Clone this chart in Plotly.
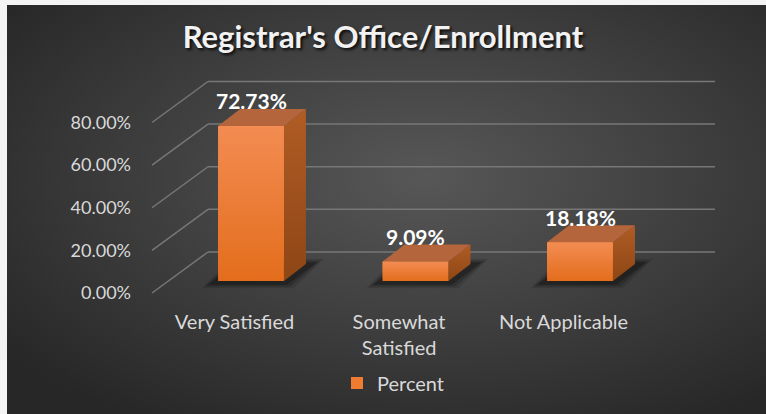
import base64
import plotly.graph_objects as go

# ---------------- data ----------------
categories = ["Very Satisfied", "Somewhat<br>Satisfied", "Not Applicable"]
percent_values = [72.73, 9.09, 18.18]
value_labels = ["72.73%", "9.09%", "18.18%"]
y_tick_values = [0, 20, 40, 60, 80]
y_tick_labels = ["0.00%", "20.00%", "40.00%", "60.00%", "80.00%"]
series_name = "Percent"
title_text = "Registrar's Office/Enrollment"

# ---------------- styling / geometry ----------------
W, H = 766, 414
ML, MR, MT, MB = 140, 46, 60, 114
X_RANGE = [-0.6748, 2.851]
Y_RANGE = [-8.92, 103.7]
BAR_W = 0.40
DX, DY = 0.134, 7.98          # bar depth (data units)
FRONT_SHIFT_Y = 5.63          # label plane offset below bar plane
FRONT_X, BACK_X, END_X = -0.6018, -0.2614, 2.8207
BACK_SHIFT_Y = 13.61
LABEL_SHIFT_X = 0.10
FONT = "Lato, Carlito, Calibri, sans-serif"
TXT = "#d9d9d9"

xs = list(range(len(categories)))

fig = go.Figure()

# shadows under bars (footprint, blurred by layering)
for i, v in zip(xs, percent_values):
    for grow, alpha in [(0.06, 0.12), (0.04, 0.18), (0.02, 0.25)]:
        gx = grow
        gy = grow * 40
        px_ = [i - BAR_W / 2 - gx - 0.04, i + BAR_W / 2 + gx, i + BAR_W / 2 + DX + gx + 0.05,
               i - BAR_W / 2 + DX - gx]
        py_ = [-gy - 1.0, -gy - 1.0, DY + gy, DY + gy]
        fig.add_trace(go.Scatter(x=px_ + [px_[0]], y=py_ + [py_[0]], fill="toself", mode="none",
                                 fillcolor=f"rgba(0,0,0,{alpha})", showlegend=False, hoverinfo="skip"))

# front faces
fig.add_trace(go.Bar(x=xs, y=percent_values, width=BAR_W, name=series_name,
                     marker=dict(color="#EF7C30", line=dict(width=0)), hoverinfo="skip"))

# side and top faces
for i, v in zip(xs, percent_values):
    sx = [i + BAR_W / 2, i + BAR_W / 2 + DX, i + BAR_W / 2 + DX, i + BAR_W / 2, i + BAR_W / 2]
    sy = [0, DY, v + DY, v, 0]
    fig.add_trace(go.Scatter(x=sx, y=sy, fill="toself", mode="none", showlegend=False,
                             hoverinfo="skip",
                             fillgradient=dict(type="vertical",
                                               colorscale=[[0, "#8E4615"], [1, "#B05C25"]])))
    tx = [i - BAR_W / 2, i + BAR_W / 2, i + BAR_W / 2 + DX, i - BAR_W / 2 + DX, i - BAR_W / 2]
    ty = [v, v, v + DY, v + DY, v]
    fig.add_trace(go.Scatter(x=tx, y=ty, fill="toself", mode="none", showlegend=False,
                             hoverinfo="skip", fillcolor="#B5653B"))

# gradient overlay on front faces (lighter at top)
for i, v in zip(xs, percent_values):
    fx = [i - BAR_W / 2, i + BAR_W / 2, i + BAR_W / 2, i - BAR_W / 2, i - BAR_W / 2]
    fy = [0, 0, v, v, 0]
    fig.add_trace(go.Scatter(x=fx, y=fy, fill="toself", mode="none", showlegend=False,
                             hoverinfo="skip",
                             fillgradient=dict(type="vertical",
                                               colorscale=[[0, "#E36D1C"], [1, "#F38C52"]])))

# dummy trace for label axis
fig.add_trace(go.Scatter(x=[None], y=[None], yaxis="y2", showlegend=False, hoverinfo="skip"))

# value labels
annotations = []
for i, v, lab in zip(xs, percent_values, value_labels):
    annotations.append(dict(x=i, y=v + DY, xref="x", yref="y", text=lab, showarrow=False,
                            xanchor="center", yanchor="middle", yshift=8,
                            font=dict(family=FONT, size=21, color="#ffffff", weight="bold")))

# gridlines (floor diagonal + back wall)
shapes = []
for t in y_tick_values:
    shapes.append(dict(type="line", xref="x", yref="y", x0=FRONT_X, y0=t - FRONT_SHIFT_Y,
                       x1=BACK_X, y1=t + BACK_SHIFT_Y, line=dict(color="#777777", width=1.5),
                       layer="below"))
    shapes.append(dict(type="line", xref="x", yref="y", x0=BACK_X, y0=t + BACK_SHIFT_Y,
                       x1=END_X, y1=t + BACK_SHIFT_Y, line=dict(color="#777777", width=1.5),
                       layer="below"))

# background gradient image
svg = ('<svg xmlns="http://www.w3.org/2000/svg" width="759" height="409" preserveAspectRatio="none">'
       '<defs><radialGradient id="g" cx="55%" cy="42%" r="70%">'
       '<stop offset="0" stop-color="#575757"/><stop offset="0.55" stop-color="#3d3d3d"/>'
       '<stop offset="1" stop-color="#272727"/></radialGradient></defs>'
       '<rect width="759" height="409" fill="url(#g)"/></svg>')
src = "data:image/svg+xml;base64," + base64.b64encode(svg.encode()).decode()
PW, PH = W - ML - MR, H - MT - MB
img = dict(source=src, xref="paper", yref="paper",
           x=(7 - ML) / PW, y=(PH + MT - 5) / PH,
           sizex=(W - 7) / PW, sizey=(H - 5) / PH,
           xanchor="left", yanchor="top", sizing="stretch", layer="below")

fig.update_layout(
    width=W, height=H,
    margin=dict(l=ML, r=MR, t=MT, b=MB),
    paper_bgcolor="#f4f4f4", plot_bgcolor="rgba(0,0,0,0)",
    images=[img], shapes=shapes, annotations=annotations,
    title=dict(text=title_text, x=0.5, xref="container", xanchor="center",
               y=1 - 37 / H, yref="container", yanchor="middle",
               font=dict(family=FONT, size=31, color="#f2f2f2", weight="bold",
                         shadow="2px 2px 3px rgba(0,0,0,0.8)")),
    xaxis=dict(range=X_RANGE, showgrid=False, zeroline=False, showline=False,
               tickvals=[i - LABEL_SHIFT_X for i in xs], ticktext=categories, ticks="",
               tickfont=dict(family=FONT, size=20, color=TXT), ticklabelstandoff=8),
    yaxis=dict(range=Y_RANGE, showgrid=False, zeroline=False, showline=False,
               showticklabels=False, ticks=""),
    yaxis2=dict(range=[Y_RANGE[0] + FRONT_SHIFT_Y, Y_RANGE[1] + FRONT_SHIFT_Y], overlaying="y",
                side="left", showgrid=False, zeroline=False, showline=False,
                tickvals=y_tick_values, ticktext=y_tick_labels, ticks="",
                tickfont=dict(family=FONT, size=18, color=TXT), ticklabelstandoff=8),
    legend=dict(orientation="h", x=(337 - ML) / PW, xanchor="left", y=(H - MB - 383) / PH,
                yanchor="middle", font=dict(family=FONT, size=20, color=TXT),
                bgcolor="rgba(0,0,0,0)"),
    showlegend=True,
)

fig.write_html("out.html", config={"displayModeBar": False},
               post_script="document.body.style.margin='0';document.body.style.overflow='hidden';")
